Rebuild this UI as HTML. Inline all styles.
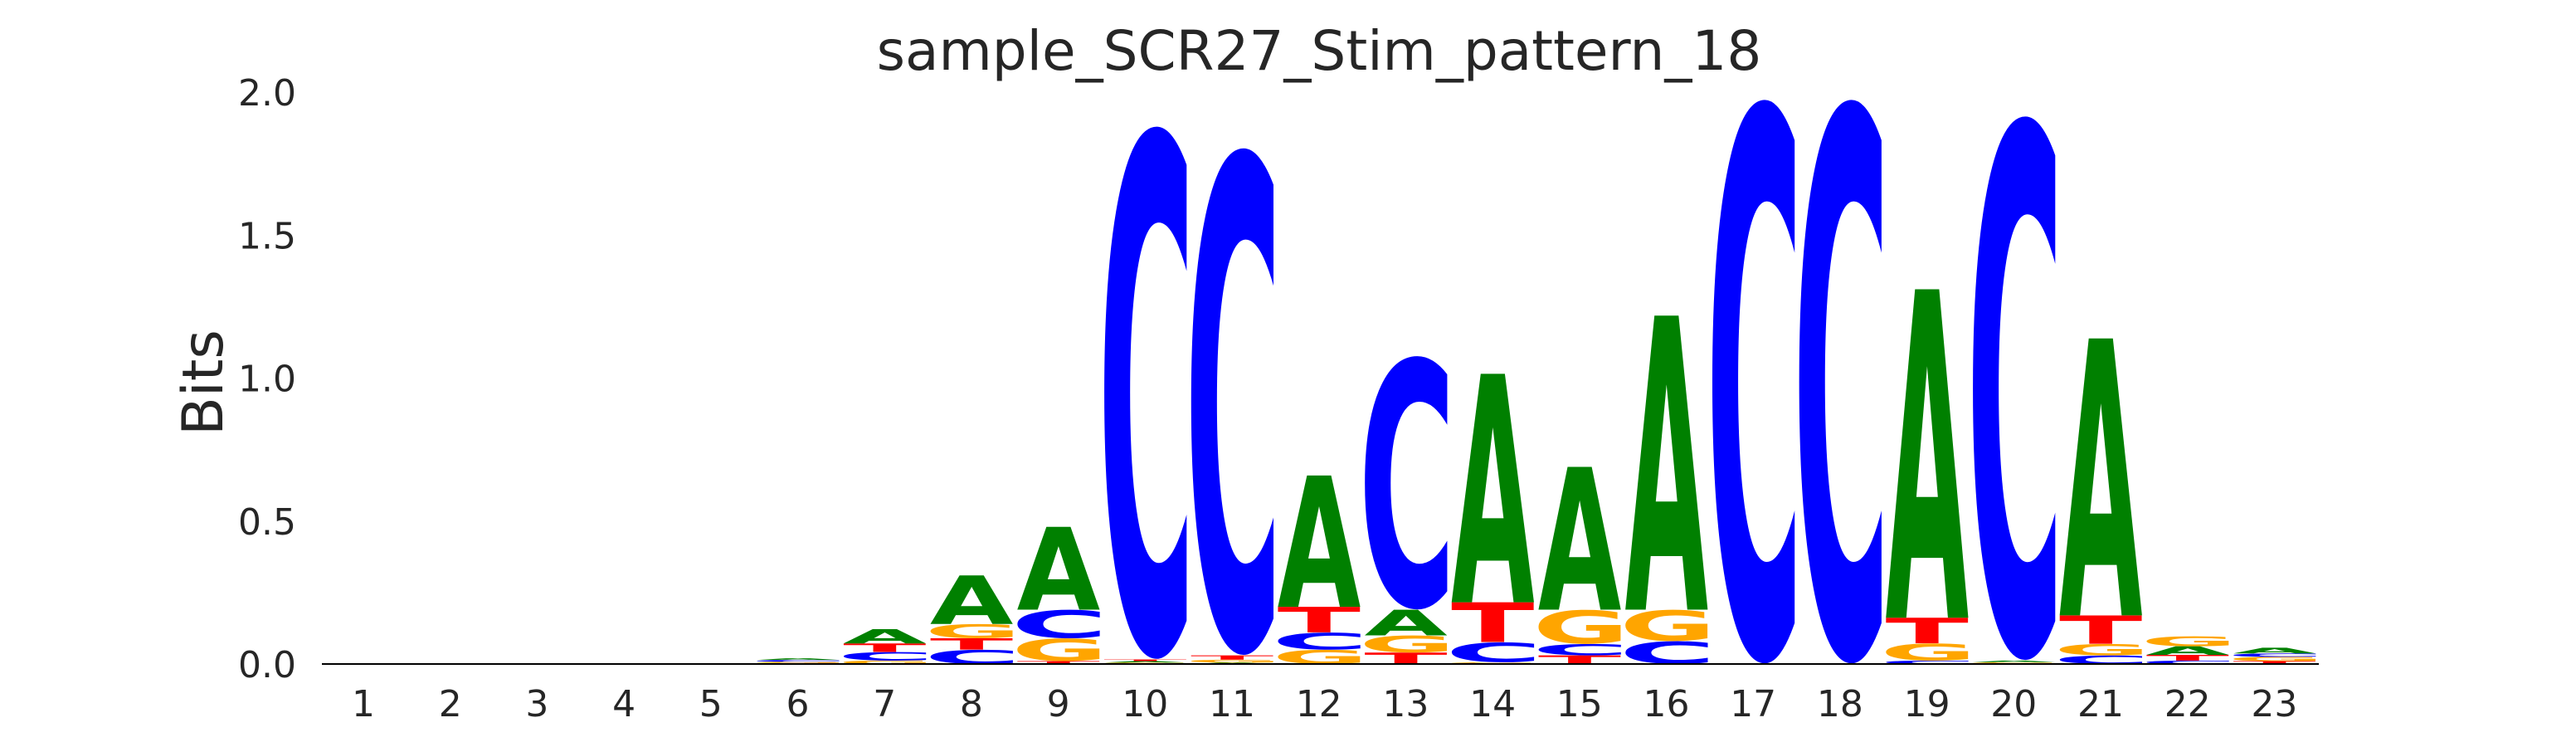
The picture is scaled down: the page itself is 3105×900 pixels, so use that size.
<!DOCTYPE html>
<html><head><meta charset="utf-8">
<style>
html,body{margin:0;padding:0;background:#fff;width:3105px;height:900px;overflow:hidden;}
svg{display:block;}
text{font-family:"DejaVu Sans","Liberation Sans",sans-serif;fill:#262626;}
</style></head>
<body>
<svg id="chart" width="3105" height="900" xmlns="http://www.w3.org/2000/svg">
<text x="1590" y="84" font-size="66" text-anchor="middle">sample_SCR27_Stim_pattern_18</text>
<text transform="translate(268,461) rotate(-90)" font-size="68" text-anchor="middle">Bits</text>
<g id="yticks"></g>
<g id="xticks"></g>
<g id="marks"></g>
<line x1="388" y1="800" x2="2795" y2="800" stroke="#000" stroke-width="2"/>
</svg>
<script>
const positions = [1,2,3,4,5,6,7,8,9,10,11,12,13,14,15,16,17,18,19,20,21,22,23];
const yTickValues = [0,0.5,1.0,1.5,2.0];
const yTickLabels = ["0.0","0.5","1.0","1.5","2.0"];
// bits per letter per position, each stack listed bottom-to-top as [letter, value]
const stacks = [
  [],[],[],[],[],
  [["T",0.003],["G",0.005],["C",0.006],["A",0.006]],
  [["G",0.012],["C",0.03],["T",0.03],["A",0.05]],
  [["C",0.05],["T",0.04],["G",0.05],["A",0.17]],
  [["T",0.01],["G",0.08],["C",0.10],["A",0.29]],
  [["G",0.005],["A",0.005],["T",0.006],["C",1.87]],
  [["A",0.005],["G",0.01],["T",0.015],["C",1.78]],
  [["G",0.05],["C",0.06],["T",0.09],["A",0.46]],
  [["T",0.04],["G",0.06],["A",0.09],["C",0.89]],
  [["G",0.006],["C",0.07],["T",0.14],["A",0.80]],
  [["T",0.03],["C",0.04],["G",0.12],["A",0.50]],
  [["C",0.08],["G",0.11],["A",1.03]],
  [["C",1.98]],
  [["C",1.98]],
  [["C",0.012],["G",0.06],["T",0.09],["A",1.15]],
  [["G",0.006],["A",0.006],["C",1.91]],
  [["C",0.03],["G",0.04],["T",0.10],["A",0.97]],
  [["C",0.012],["T",0.02],["A",0.03],["G",0.035]],
  [["T",0.01],["G",0.015],["C",0.012],["A",0.02]]
];
const colors = {A:"#008000",C:"#0000ff",G:"#ffa500",T:"#ff0000"};
const NS="http://www.w3.org/2000/svg";
const y0=800, pxPerBit=344.5, x1=438, step=104.7, colW=100;
function yScale(v){return y0 - v*pxPerBit;}
function xScale(p){return x1 + (p-1)*step;}
const FONT='bold 200px "DejaVu Sans", "Liberation Sans", sans-serif';
const ctx=document.createElement('canvas').getContext('2d');
ctx.font=FONT;
const yt=document.getElementById('yticks');
yTickValues.forEach((v,i)=>{
  const t=document.createElementNS(NS,'text');
  
  
  t.setAttribute('x',357);t.setAttribute('y',yScale(v)+16);
  t.setAttribute('font-size','44');t.setAttribute('text-anchor','end');
  t.textContent=yTickLabels[i];yt.appendChild(t);
});
const xt=document.getElementById('xticks');
positions.forEach(p=>{
  const t=document.createElementNS(NS,'text');
  
  
  t.setAttribute('x',xScale(p));t.setAttribute('y',863);
  t.setAttribute('font-size','44');t.setAttribute('text-anchor','middle');
  t.textContent=String(p);xt.appendChild(t);
});
const g=document.getElementById('marks');
stacks.forEach((st,i)=>{
  const p=positions[i];
  let cum=0;
  st.forEach(([L,v])=>{
    const yb=yScale(cum), ytop=yScale(cum+v);
    cum+=v;
    const h=yb-ytop; if(h<=0.2) return;
    const m=ctx.measureText(L);
    const gl=m.actualBoundingBoxLeft, gr=m.actualBoundingBoxRight;
    const ga=m.actualBoundingBoxAscent, gd=m.actualBoundingBoxDescent;
    const gw=gl+gr, gh=ga+gd;
    const sx=colW/gw, sy=h/gh;
    const t=document.createElementNS(NS,'text');
    
    
    t.setAttribute('x',0);t.setAttribute('y',0);
    t.setAttribute('style','font:'+FONT+';fill:'+colors[L]);
    t.setAttribute('transform',`translate(${xScale(p)-colW/2},${ytop}) scale(${sx},${sy}) translate(${gl},${ga})`);
    t.textContent=L;
    g.appendChild(t);
  });
});
</script>
</body></html>
